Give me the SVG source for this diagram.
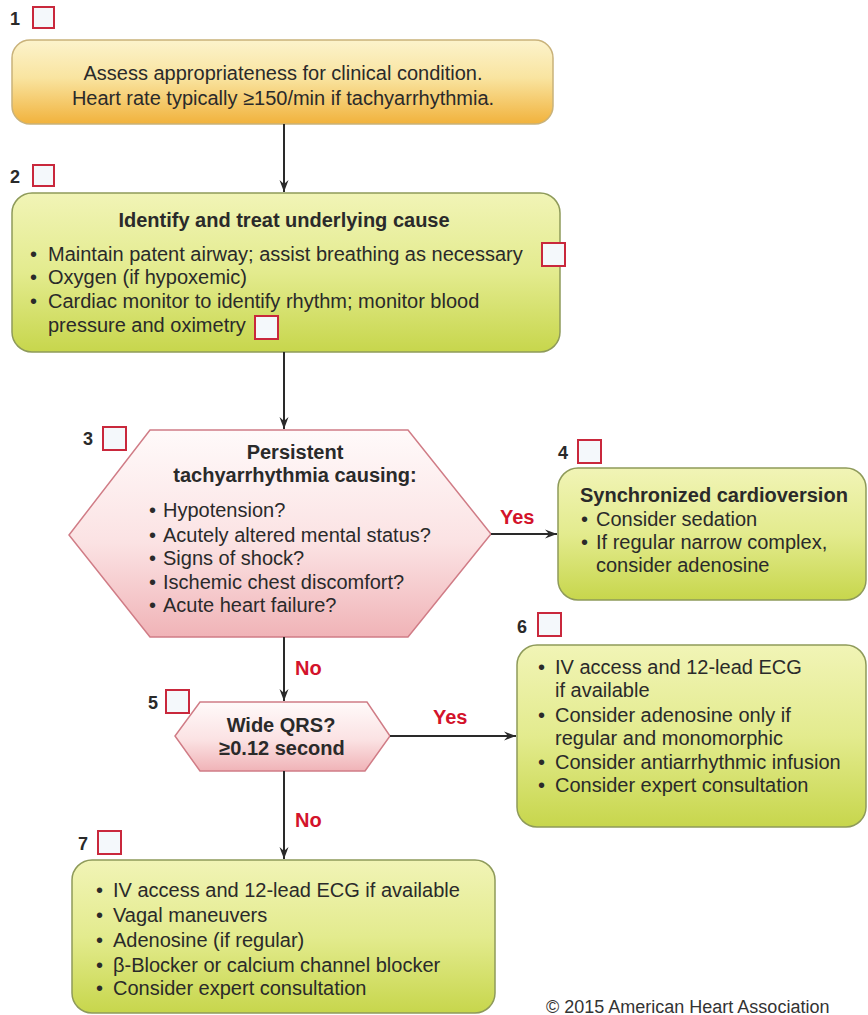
<svg xmlns="http://www.w3.org/2000/svg" width="868" height="1015" viewBox="0 0 868 1015">
  <defs>
    <linearGradient id="gOrange" x1="0" y1="0" x2="0" y2="1">
      <stop offset="0" stop-color="#fcf3cc"/>
      <stop offset="0.45" stop-color="#f9e4a0"/>
      <stop offset="1" stop-color="#f1b23c"/>
    </linearGradient>
    <linearGradient id="gGreen" x1="0" y1="0" x2="0" y2="1">
      <stop offset="0" stop-color="#f1f4b6"/>
      <stop offset="0.5" stop-color="#e3eb8e"/>
      <stop offset="1" stop-color="#c7d64c"/>
    </linearGradient>
    <linearGradient id="gPink" x1="0" y1="0" x2="0" y2="1">
      <stop offset="0" stop-color="#fffafa"/>
      <stop offset="0.55" stop-color="#fbe2e3"/>
      <stop offset="1" stop-color="#f0b3b7"/>
    </linearGradient>
    <marker id="ah" viewBox="0 0 12 10" refX="12" refY="5" markerWidth="12" markerHeight="10" markerUnits="userSpaceOnUse" orient="auto">
      <path d="M0,0.5 L12,5 L0,9.5 L4,5 Z" fill="#2a2a2a"/>
    </marker>
    <style>
      .t { font-family: "Liberation Sans", Arial, sans-serif; font-size: 20px; fill: #2a2a2a; }
      .b { font-weight: bold; }
      .num { font-family: "Liberation Sans", Arial, sans-serif; font-size: 18px; font-weight: bold; fill: #2a2a2a; }
      .red { font-family: "Liberation Sans", Arial, sans-serif; font-size: 20px; font-weight: bold; fill: #d3132b; }
      .sq { fill: #f4f8fb; stroke: #c9283c; stroke-width: 2; }
      .orange { fill: url(#gOrange); stroke: #c9b27a; stroke-width: 1.5; }
      .green { fill: url(#gGreen); stroke: #8e9a5a; stroke-width: 1.5; }
      .pink { fill: url(#gPink); stroke: #d07c86; stroke-width: 1.5; }
      .conn { stroke: #2a2a2a; stroke-width: 2; fill: none; marker-end: url(#ah); }
      .copy { font-family: "Liberation Sans", Arial, sans-serif; font-size: 18px; fill: #333; }
    </style>
  </defs>

  <g id="node1">
    <text class="num" x="10" y="25">1</text>
    <rect class="sq" x="33" y="7" width="21" height="21"/>
    <rect class="orange" x="12" y="40" width="541" height="84" rx="18"/>
    <text class="t" x="283" y="80" text-anchor="middle">Assess appropriateness for clinical condition.</text>
    <text class="t" x="283" y="105" text-anchor="middle">Heart rate typically ≥150/min if tachyarrhythmia.</text>
  </g>

  <g id="node2">
    <text class="num" x="10" y="183">2</text>
    <rect class="sq" x="33" y="165" width="21" height="21"/>
    <rect class="green" x="12" y="193" width="548" height="159" rx="20"/>
    <text class="t b" x="284" y="227" text-anchor="middle">Identify and treat underlying cause</text>
    <text class="t" x="30" y="261">•<tspan x="48">Maintain patent airway; assist breathing as necessary</tspan></text>
    <rect class="sq" x="542" y="243" width="23" height="23"/>
    <text class="t" x="30" y="284">•<tspan x="48">Oxygen (if hypoxemic)</tspan></text>
    <text class="t" x="30" y="308">•<tspan x="48">Cardiac monitor to identify rhythm; monitor blood</tspan></text>
    <text class="t" x="48" y="332">pressure and oximetry</text>
    <rect class="sq" x="255" y="316" width="23" height="23"/>
  </g>

  <g id="node3">
    <text class="num" x="83" y="445">3</text>
    <rect class="sq" x="103" y="427" width="23" height="23"/>
    <polygon class="pink" points="150,430 408,430 491,534 408,637 150,637 69,535"/>
    <text class="t b" x="295" y="459" text-anchor="middle">Persistent</text>
    <text class="t b" x="295" y="482" text-anchor="middle">tachyarrhythmia causing:</text>
    <text class="t" x="149" y="517">•<tspan x="163">Hypotension?</tspan></text>
    <text class="t" x="149" y="542">•<tspan x="163">Acutely altered mental status?</tspan></text>
    <text class="t" x="149" y="565">•<tspan x="163">Signs of shock?</tspan></text>
    <text class="t" x="149" y="589">•<tspan x="163">Ischemic chest discomfort?</tspan></text>
    <text class="t" x="149" y="612">•<tspan x="163">Acute heart failure?</tspan></text>
  </g>

  <g id="node4">
    <text class="num" x="558" y="459">4</text>
    <rect class="sq" x="578" y="440" width="23" height="23"/>
    <rect class="green" x="558" y="468" width="308" height="132" rx="20"/>
    <text class="t b" x="580" y="502">Synchronized cardioversion</text>
    <text class="t" x="581" y="526">•<tspan x="596">Consider sedation</tspan></text>
    <text class="t" x="581" y="549">•<tspan x="596">If regular narrow complex,</tspan></text>
    <text class="t" x="596" y="572">consider adenosine</text>
  </g>

  <g id="node5">
    <text class="num" x="148" y="709">5</text>
    <rect class="sq" x="166" y="690" width="23" height="23"/>
    <polygon class="pink" points="200,702 367,702 390,736 365,771 200,771 175,736"/>
    <text class="t b" x="281" y="732" text-anchor="middle">Wide QRS?</text>
    <text class="t b" x="282" y="755" text-anchor="middle">≥0.12 second</text>
  </g>

  <g id="node6">
    <text class="num" x="517" y="633">6</text>
    <rect class="sq" x="538" y="613" width="23" height="23"/>
    <rect class="green" x="517" y="645" width="349" height="182" rx="20"/>
    <text class="t" x="538" y="674">•<tspan x="555">IV access and 12-lead ECG</tspan></text>
    <text class="t" x="555" y="697">if available</text>
    <text class="t" x="538" y="722">•<tspan x="555">Consider adenosine only if</tspan></text>
    <text class="t" x="555" y="745">regular and monomorphic</text>
    <text class="t" x="538" y="769">•<tspan x="555">Consider antiarrhythmic infusion</tspan></text>
    <text class="t" x="538" y="792">•<tspan x="555">Consider expert consultation</tspan></text>
  </g>

  <g id="node7">
    <text class="num" x="78" y="850">7</text>
    <rect class="sq" x="98" y="831" width="23" height="23"/>
    <rect class="green" x="72" y="860" width="423" height="153" rx="20"/>
    <text class="t" x="96" y="897">•<tspan x="113">IV access and 12-lead ECG if available</tspan></text>
    <text class="t" x="96" y="922">•<tspan x="113">Vagal maneuvers</tspan></text>
    <text class="t" x="96" y="947">•<tspan x="113">Adenosine (if regular)</tspan></text>
    <text class="t" x="96" y="972">•<tspan x="113">β-Blocker or calcium channel blocker</tspan></text>
    <text class="t" x="96" y="995">•<tspan x="113">Consider expert consultation</tspan></text>
  </g>

  <g id="connectors">
    <line class="conn" x1="284" y1="124" x2="284" y2="192"/>
    <line class="conn" x1="284" y1="352" x2="284" y2="429"/>
    <line class="conn" x1="491" y1="534" x2="557" y2="534"/>
    <text class="red" x="500" y="524">Yes</text>
    <line class="conn" x1="284" y1="637" x2="284" y2="701"/>
    <text class="red" x="295" y="675">No</text>
    <line class="conn" x1="390" y1="736" x2="516" y2="736"/>
    <text class="red" x="433" y="724">Yes</text>
    <line class="conn" x1="284" y1="771" x2="284" y2="859"/>
    <text class="red" x="295" y="827">No</text>
  </g>

  <text class="copy" x="546" y="1013">© 2015 American Heart Association</text>
</svg>
